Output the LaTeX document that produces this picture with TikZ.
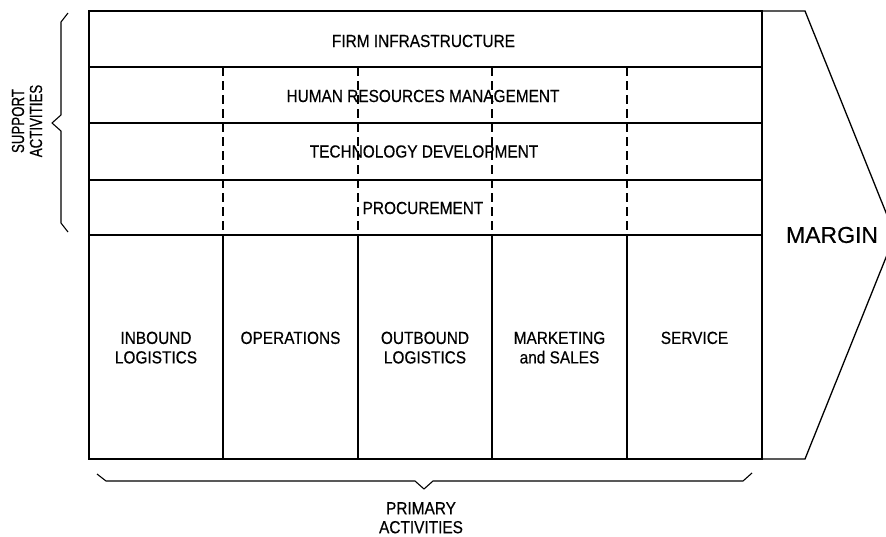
\documentclass[tikz,border=0pt]{standalone}
\usepackage{fontspec}
\setmainfont{Liberation Sans}[FakeStretch=0.88, FakeBold=0.4]
\newfontfamily\marginfont{Liberation Sans}[FakeBold=0.4]
\newfontfamily\supfont{Liberation Sans}[FakeStretch=0.76, FakeBold=0.4]
\begin{document}
\begin{tikzpicture}[x=1pt,y=-1pt,
  frame/.style={line width=1.3pt},
  dashline/.style={line width=1.1pt, dash pattern=on 9pt off 5pt},
  lbl/.style={font=\fontsize{17.5}{19.5}\selectfont, inner sep=0pt, align=center},
  bracepath/.style={line width=1.1pt, line join=round}]
\useasboundingbox (0,0) rectangle (886,536);
% dashed separators of support rows
\foreach \x in {223,358,492,627} \draw[dashline] (\x,67) -- (\x,235);
% frame
\draw[frame] (89,11) rectangle (762,459);
\foreach \y in {67,123,180,235} \draw[frame] (89,\y) -- (762,\y);
\foreach \x in {223,358,492,627} \draw[frame] (\x,235) -- (\x,459);
% margin arrow
\draw[frame, line join=miter] (762,11) -- (805,11) -- (895,235) -- (805,459) -- (762,459);
% support activities
\node[lbl] (firm) at (423.5,41) {FIRM INFRASTRUCTURE};
\node[lbl] (hrm) at (423,96) {HUMAN RESOURCES MANAGEMENT};
\node[lbl] (tech) at (424,151.5) {TECHNOLOGY DEVELOPMENT};
\node[lbl] (proc) at (423,208) {PROCUREMENT};
% primary activities
\node[lbl, anchor=north] (inb) at (156,331.5) {INBOUND\\LOGISTICS};
\node[lbl, anchor=north] (ops) at (290.5,331.5) {OPERATIONS};
\node[lbl, anchor=north] (outb) at (425,331.5) {OUTBOUND\\LOGISTICS};
\node[lbl, anchor=north] (mkt) at (559.5,331.5) {MARKETING\\and SALES};
\node[lbl, anchor=north] (serv) at (694.5,331.5) {SERVICE};
% margin
\node[inner sep=0pt, font=\marginfont\fontsize{23}{27}\selectfont] (margin) at (832,235) {MARGIN};
% braces and their labels
\draw[bracepath] (68,13) -- (61,22) -- (61,115) -- (52,123) -- (61,131) -- (61,223) -- (68,232);
\node[lbl, font=\supfont\fontsize{17.5}{18}\selectfont, rotate=90] (support) at (27,121) {SUPPORT\\ACTIVITIES};
\draw[bracepath] (97,474) -- (106,481) -- (415,481) -- (424,489) -- (433,481) -- (743,481) -- (752,473);
\node[lbl, anchor=north, font=\fontsize{17.5}{19}\selectfont] (primary) at (421,502) {PRIMARY\\ACTIVITIES};
\end{tikzpicture}
\end{document}
